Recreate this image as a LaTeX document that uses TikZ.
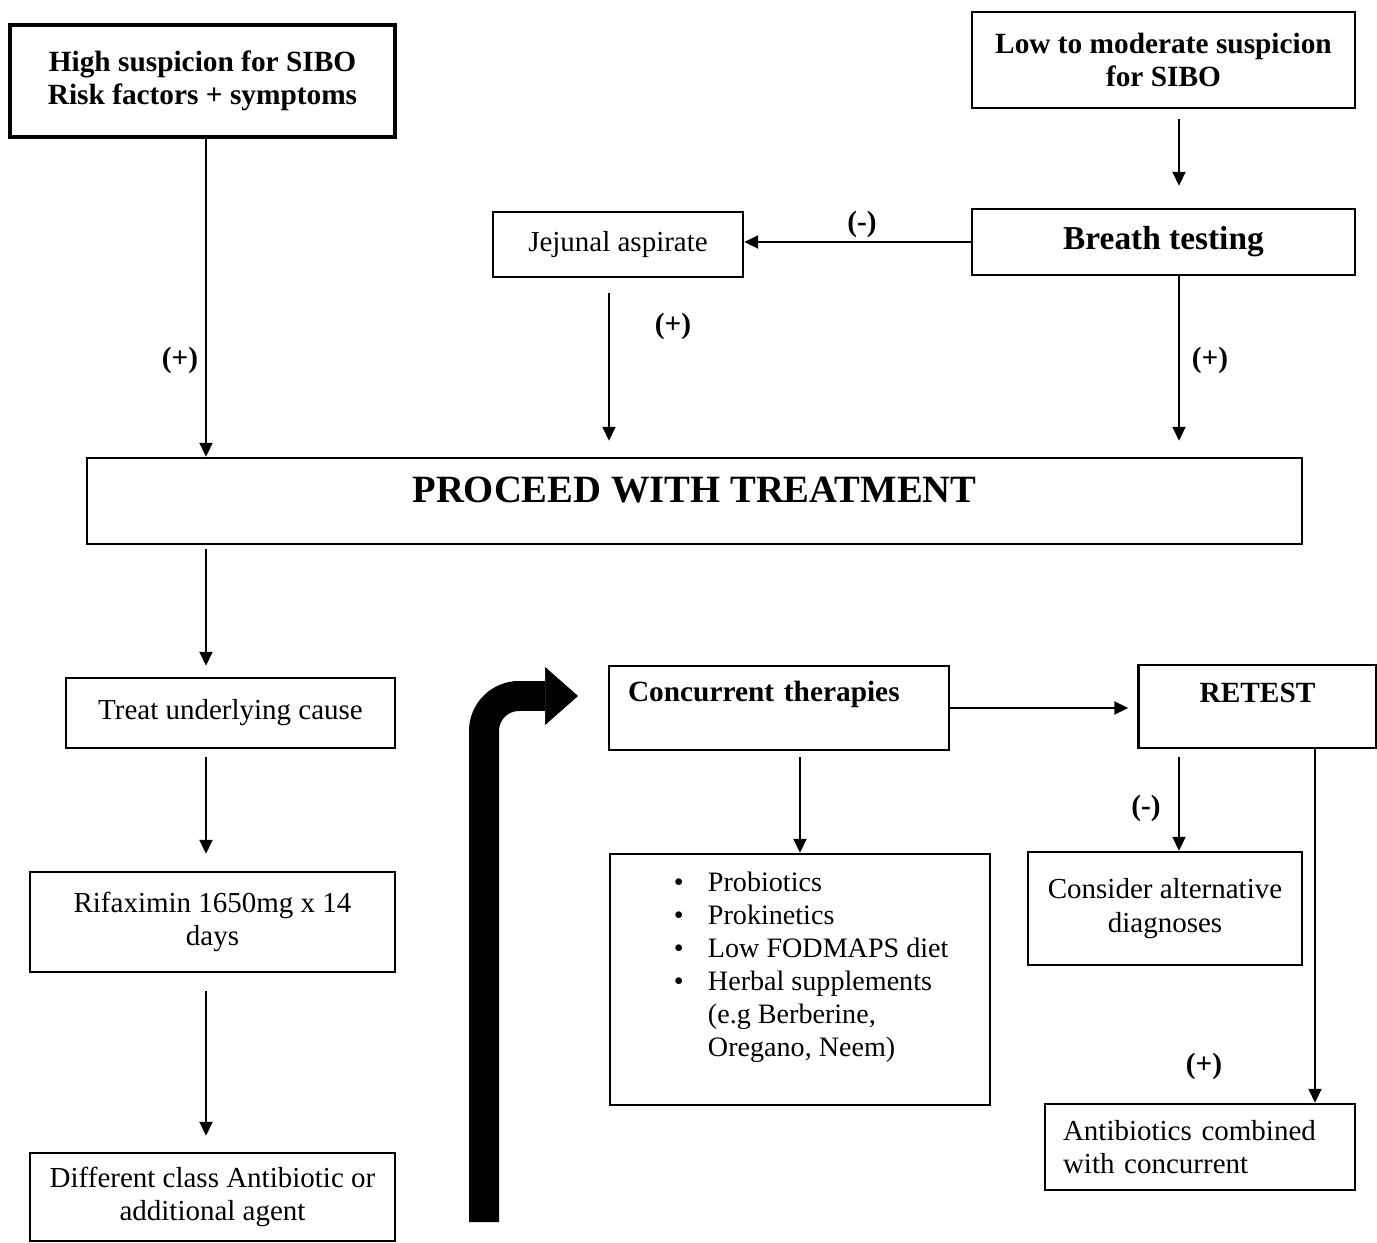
\documentclass[tikz,border=0pt]{standalone}
\usepackage{fontspec}
\setmainfont{Liberation Serif}
\usetikzlibrary{arrows.meta,calc,positioning}

\begin{document}
\begin{tikzpicture}[x=0.02cm,y=-0.02cm,font=\fontsize{16.5}{19}\selectfont,
    box/.style={draw,line width=1.4pt,inner sep=2pt,align=center},
    bold/.style={font=\fontsize{16.7}{19}\selectfont\bfseries},
    arr/.style={line width=1.1pt,-{Triangle[length=0.28cm,width=0.26cm]}},
    sign/.style={font=\fontsize{16.7}{19}\selectfont\bfseries}]
    \useasboundingbox (0,0) rectangle (1377,1243);
    % columns of the vertical arrows
    \coordinate (lcol) at (206,0);
    \coordinate (jcol) at (609,0);
    \coordinate (rcol) at (1179,0);
    \coordinate (acol) at (1315,0);
    % diagnosis
    \node[box,bold,line width=2.3pt,minimum width=7.7cm,minimum height=2.24cm] (high) at (202.5,81)
      {High suspicion for SIBO\\Risk factors + symptoms};
    \node[box,bold,minimum width=7.66cm,minimum height=1.92cm] (low) at (1163.5,60)
      {Low to moderate suspicion\\for SIBO};
    \node[box,font=\fontsize{19}{22}\selectfont\bfseries,minimum width=7.66cm,minimum height=1.32cm] (breath) at (1163.5,242)
      {Breath testing};
    \node[box,minimum width=5cm,minimum height=1.3cm] (jejunal) at (618,244.5) {Jejunal aspirate};
    \node[box,font=\fontsize{22}{26}\selectfont\bfseries,text height=0.55cm,text depth=0.48cm,
      minimum width=24.3cm,minimum height=1.72cm] (proceed) at (694.5,501) {PROCEED WITH TREATMENT};
    % treatment column
    \node[box,minimum width=6.58cm,minimum height=1.4cm] (treat) at (230.5,713) {Treat underlying cause};
    \node[box,minimum width=7.3cm,minimum height=2cm] (rifax) at (212.5,922)
      {Rifaximin 1650mg x 14\\days};
    \node[box,minimum width=7.3cm,minimum height=1.76cm] (diffab) at (212.5,1197)
      {Different class Antibiotic or\\additional agent};
    % concurrent therapies and retest
    \node[box,bold,align=left,text width=6.04cm,inner xsep=0.38cm,text height=0.4cm,text depth=0.66cm,
      minimum height=1.68cm] (concur) at (779,708) {Concurrent therapies};
    \node[box,inner sep=0pt,text height=0.74cm,text depth=4.28cm,minimum width=7.6cm,
      font=\fontsize{16}{18.8}\selectfont] (therapies) at (800,979.5)
      {\begin{tabular}[t]{@{\hspace{0.45cm}}p{0.68cm}@{}l@{}}
        \textbullet & Probiotics\\
        \textbullet & Prokinetics\\
        \textbullet & Low FODMAPS diet\\
        \textbullet & Herbal supplements\\
        & (e.g Berberine,\\
        & Oregano, Neem)
      \end{tabular}};
    \node[box,bold,text height=0.4cm,text depth=0.55cm,minimum width=4.76cm,minimum height=1.66cm] (retest) at (1257.5,706.5) {RETEST};
    \node[box,minimum width=5.48cm,minimum height=2.26cm] (consider) at (1165,908.5)
      {Consider alternative\\diagnoses};
    \node[box,align=left,text width=5.48cm,inner xsep=0.36cm,minimum height=1.72cm] (combo) at (1200,1147)
      {Antibiotics combined\\with concurrent};
    % arrows
    \draw[arr] (high.south -| lcol) -- (proceed.north -| lcol);
    \draw[arr,shorten <=0.2cm,shorten >=0.44cm] (low.south -| rcol) -- (breath.north -| rcol);
    \draw[arr] (breath.west) -- (breath.west -| jejunal.east);
    \draw[arr,shorten <=0.3cm,shorten >=0.32cm] (jejunal.south -| jcol) -- (proceed.north -| jcol);
    \draw[arr,shorten >=0.32cm] (breath.south -| rcol) -- (proceed.north -| rcol);
    \draw[arr,shorten <=0.08cm,shorten >=0.22cm] (proceed.south -| lcol) -- (treat.north -| lcol);
    \draw[arr,shorten <=0.16cm,shorten >=0.34cm] (treat.south -| lcol) -- (rifax.north -| lcol);
    \draw[arr,shorten <=0.36cm,shorten >=0.32cm] (rifax.south -| lcol) -- (diffab.north -| lcol);
    \draw[arr,shorten >=0.18cm] (concur.east) -- (concur.east -| retest.west);
    \draw[arr,shorten <=0.12cm] (concur.south -| therapies.north) -- (therapies.north);
    \draw[arr,shorten <=0.16cm] (retest.south -| rcol) -- (consider.north -| rcol);
    \draw[arr] (retest.south -| acol) -- (combo.north -| acol);
    % test results
    \node[sign] (plushigh) at (180,360) {(+)};
    \node[sign] (minusbreath) at (862,224) {(-)};
    \node[sign] (plusjej) at (673,326) {(+)};
    \node[sign] (plusbreath) at (1210,360) {(+)};
    \node[sign] (minusretest) at (1146,808) {(-)};
    \node[sign] (plusretest) at (1204,1066) {(+)};
    % big bent arrow
    \coordinate (bigfoot) at (484,1222);
    \coordinate (bigtip) at (578,696);
    \draw[line width=0.6cm,rounded corners=0.7cm,
      -{Triangle[length=0.66cm,width=1.16cm,line width=0.4pt]}] (bigfoot) |- (bigtip);
\end{tikzpicture}
\end{document}
